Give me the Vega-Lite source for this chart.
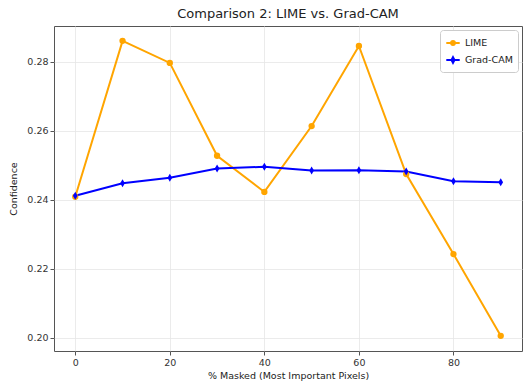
{
  "$schema": "https://vega.github.io/schema/vega-lite/v6.json",
  "autosize": {"type": "none"},
  "padding": {"left": 54, "top": 26, "right": 7, "bottom": 30},
  "width": 468,
  "height": 325,
  "background": "white",
  "title": {"text": "Comparison 2: LIME vs. Grad-CAM", "font": "DejaVu Sans", "fontSize": 13, "fontWeight": "normal", "color": "#222", "offset": 5},
  "config": {
    "font": "DejaVu Sans",
    "view": {"stroke": "#555", "strokeWidth": 1},
    "axis": {"labelFont": "DejaVu Sans", "labelFontSize": 9.5, "labelColor": "#333", "titleFont": "DejaVu Sans", "titleFontSize": 9.5, "titleFontWeight": "normal", "titleColor": "#222", "gridColor": "#e6e6e6", "gridWidth": 0.8, "domain": false, "tickColor": "#555", "tickSize": 4}
  },
  "data": {"values": [
    {"x": 0, "series": "LIME", "y": 0.2409},
    {"x": 10, "series": "LIME", "y": 0.2861},
    {"x": 20, "series": "LIME", "y": 0.2797},
    {"x": 30, "series": "LIME", "y": 0.2528},
    {"x": 40, "series": "LIME", "y": 0.2423},
    {"x": 50, "series": "LIME", "y": 0.2614},
    {"x": 60, "series": "LIME", "y": 0.2846},
    {"x": 70, "series": "LIME", "y": 0.2475},
    {"x": 80, "series": "LIME", "y": 0.2243},
    {"x": 90, "series": "LIME", "y": 0.2006},
    {"x": 0, "series": "Grad-CAM", "y": 0.2412},
    {"x": 10, "series": "Grad-CAM", "y": 0.2448},
    {"x": 20, "series": "Grad-CAM", "y": 0.2464},
    {"x": 30, "series": "Grad-CAM", "y": 0.2491},
    {"x": 40, "series": "Grad-CAM", "y": 0.2496},
    {"x": 50, "series": "Grad-CAM", "y": 0.2485},
    {"x": 60, "series": "Grad-CAM", "y": 0.2486},
    {"x": 70, "series": "Grad-CAM", "y": 0.2482},
    {"x": 80, "series": "Grad-CAM", "y": 0.2454},
    {"x": 90, "series": "Grad-CAM", "y": 0.2451}
  ]},
  "encoding": {
    "x": {"field": "x", "type": "quantitative", "scale": {"domain": [-4.5, 94.5], "nice": false, "zero": false}, "axis": {"values": [0, 20, 40, 60, 80], "title": "% Masked (Most Important Pixels)", "titlePadding": 4}},
    "y": {"field": "y", "type": "quantitative", "scale": {"domain": [0.1962, 0.2904], "nice": false, "zero": false}, "axis": {"values": [0.20, 0.22, 0.24, 0.26, 0.28], "format": ".2f", "title": "Confidence", "titlePadding": 8}},
    "color": {"field": "series", "type": "nominal", "scale": {"domain": ["LIME", "Grad-CAM"], "range": ["orange", "blue"]},
      "legend": {"title": null, "orient": "top-right", "offset": 4, "fillColor": "white", "strokeColor": "#ccc", "padding": 5, "cornerRadius": 3, "labelFont": "DejaVu Sans", "labelFontSize": 9.5, "labelColor": "#222", "symbolSize": 180, "symbolStrokeWidth": 2, "rowPadding": 3,
        "encode": {"symbols": {"update": {
          "shape": {"signal": "datum.value === 'LIME' ? 'M-1,0H1M0.28,0A0.28,0.28,0,1,1,-0.28,0A0.28,0.28,0,1,1,0.28,0Z' : 'M-1,0H1M0,-0.42L0.22,0L0,0.42L-0.22,0Z'"},
          "fill": {"signal": "datum.value === 'LIME' ? 'orange' : 'blue'"},
          "stroke": {"signal": "datum.value === 'LIME' ? 'orange' : 'blue'"},
          "strokeWidth": {"value": 2},
          "opacity": {"value": 1}
        }}}}}
  },
  "layer": [
    {"mark": {"type": "line", "strokeWidth": 2}},
    {"transform": [{"filter": "datum.series === 'LIME'"}],
     "mark": {"type": "point", "filled": true, "opacity": 1, "size": 40, "shape": "circle"}},
    {"transform": [{"filter": "datum.series === 'Grad-CAM'"}],
     "mark": {"type": "point", "filled": true, "opacity": 1, "size": 45, "shape": "M0,-1.2L0.7,0L0,1.2L-0.7,0Z"}}
  ]
}
